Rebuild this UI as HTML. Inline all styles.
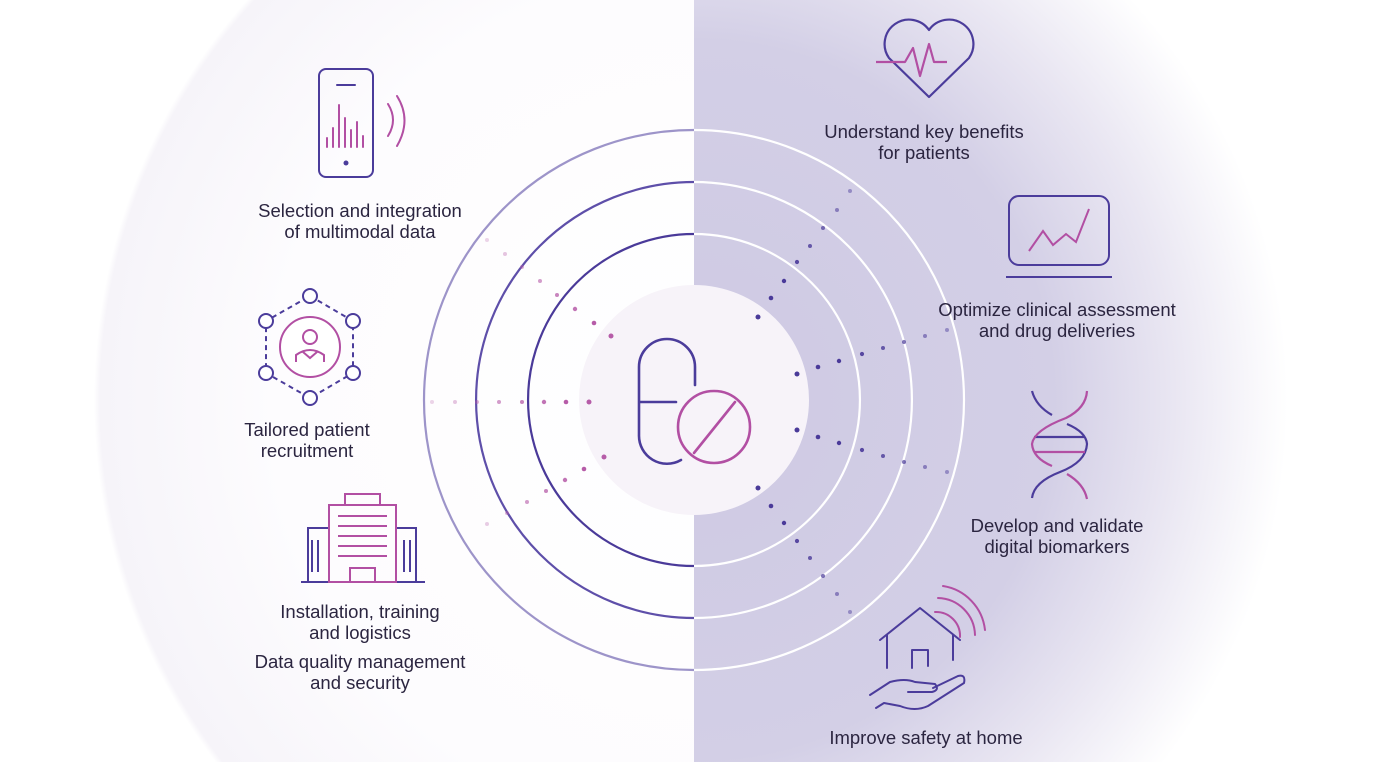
<!DOCTYPE html>
<html><head><meta charset="utf-8"><style>
body{margin:0;width:1383px;height:762px;overflow:hidden;background:#fff;font-family:"Liberation Sans",sans-serif}
.t{position:absolute;font-size:18.5px;color:#2b2540;text-align:center;line-height:21px;white-space:nowrap}
</style></head><body>
<svg width="1383" height="762" style="position:absolute;left:0;top:0">
<defs>
<radialGradient id="rg" cx="694" cy="400" r="600" gradientUnits="userSpaceOnUse">
<stop offset="0" stop-color="#cec9e3"/><stop offset="0.6" stop-color="#d3cfe6"/><stop offset="0.8" stop-color="#e9e6f2"/><stop offset="0.99" stop-color="#fff"/></radialGradient>
<radialGradient id="lg" cx="694" cy="400" r="600" gradientUnits="userSpaceOnUse">
<stop offset="0" stop-color="#fff"/><stop offset="0.7" stop-color="#fdfcfe"/><stop offset="0.99" stop-color="#f6f4f9"/><stop offset="1" stop-color="#fff"/></radialGradient>
</defs>
<rect x="0" y="0" width="694" height="762" fill="url(#lg)"/>
<rect x="694" y="0" width="689" height="762" fill="url(#rg)"/>
<circle cx="694" cy="400" r="115" fill="#f7f3f9"/>
<g fill="none" stroke-width="2.2">
<path d="M694 130 A270 270 0 0 0 694 670" stroke="#9d94c9"/>
<path d="M694 182 A218 218 0 0 0 694 618" stroke="#5e4fa9"/>
<path d="M694 234 A166 166 0 0 0 694 566" stroke="#4a3a99"/>
<path d="M694 130 A270 270 0 0 1 694 670" stroke="#fff"/>
<path d="M694 182 A218 218 0 0 1 694 618" stroke="#fff"/>
<path d="M694 234 A166 166 0 0 1 694 566" stroke="#fff"/>
</g>
<g fill="#b65ca8">
<circle cx="589" cy="402" r="2.5"/><circle cx="566" cy="402" r="2.3"/><circle cx="544" cy="402" r="2.2" opacity=".85"/><circle cx="522" cy="402" r="2" opacity=".75"/><circle cx="499" cy="402" r="2" opacity=".6"/><circle cx="477" cy="402" r="2" opacity=".45"/><circle cx="455" cy="402" r="2" opacity=".35"/><circle cx="432" cy="402" r="2" opacity=".25"/>
<circle cx="611" cy="336" r="2.5"/><circle cx="594" cy="323" r="2.3"/><circle cx="575" cy="309" r="2.2" opacity=".85"/><circle cx="557" cy="295" r="2" opacity=".75"/><circle cx="540" cy="281" r="2" opacity=".6"/><circle cx="522" cy="267" r="2" opacity=".45"/><circle cx="505" cy="254" r="2" opacity=".35"/><circle cx="487" cy="240" r="2" opacity=".25"/>
<circle cx="604" cy="457" r="2.5"/><circle cx="584" cy="469" r="2.3"/><circle cx="565" cy="480" r="2.2" opacity=".85"/><circle cx="546" cy="491" r="2" opacity=".75"/><circle cx="527" cy="502" r="2" opacity=".6"/><circle cx="507" cy="513" r="2" opacity=".45"/><circle cx="487" cy="524" r="2" opacity=".3"/>
</g>
<g fill="#4a3a99">
<circle cx="758" cy="317" r="2.5"/><circle cx="771" cy="298" r="2.3"/><circle cx="784" cy="281" r="2.2"/><circle cx="797" cy="262" r="2.1" opacity=".9"/><circle cx="810" cy="246" r="2" opacity=".8"/><circle cx="823" cy="228" r="2" opacity=".7"/><circle cx="837" cy="210" r="2" opacity=".55"/><circle cx="850" cy="191" r="2" opacity=".45"/>
<circle cx="797" cy="374" r="2.5"/><circle cx="818" cy="367" r="2.3"/><circle cx="839" cy="361" r="2.2"/><circle cx="862" cy="354" r="2.1" opacity=".9"/><circle cx="883" cy="348" r="2" opacity=".8"/><circle cx="904" cy="342" r="2" opacity=".7"/><circle cx="925" cy="336" r="2" opacity=".55"/><circle cx="947" cy="330" r="2" opacity=".45"/>
<circle cx="797" cy="430" r="2.5"/><circle cx="818" cy="437" r="2.3"/><circle cx="839" cy="443" r="2.2"/><circle cx="862" cy="450" r="2.1" opacity=".9"/><circle cx="883" cy="456" r="2" opacity=".8"/><circle cx="904" cy="462" r="2" opacity=".7"/><circle cx="925" cy="467" r="2" opacity=".55"/><circle cx="947" cy="472" r="2" opacity=".45"/>
<circle cx="758" cy="488" r="2.5"/><circle cx="771" cy="506" r="2.3"/><circle cx="784" cy="523" r="2.2"/><circle cx="797" cy="541" r="2.1" opacity=".9"/><circle cx="810" cy="558" r="2" opacity=".8"/><circle cx="823" cy="576" r="2" opacity=".7"/><circle cx="837" cy="594" r="2" opacity=".55"/><circle cx="850" cy="612" r="2" opacity=".45"/>
</g>
<g fill="none" stroke-width="2.6" stroke-linecap="round">
<path d="M695 385 V367 A28 28 0 0 0 639 367 V435 A28 28 0 0 0 681 460 M639 402 H676" stroke="#4b3c9b"/>
<circle cx="714" cy="427" r="36" stroke="#b24fa3"/>
<path d="M694 453 L735 402" stroke="#b24fa3"/>
</g>
<g fill="none" stroke-width="2" stroke-linecap="round">
<rect x="319" y="69" width="54" height="108" rx="7" stroke="#4b3c9b"/>
<path d="M337 85 H355" stroke="#4b3c9b"/>
<circle cx="346" cy="163" r="2.5" fill="#4b3c9b" stroke="none"/>
<path d="M327 147V138 M333 147V128 M339 147V105 M345 147V118 M351 147V130 M357 147V122 M363 147V136" stroke="#b24fa3"/>
<path d="M388 104 Q398 120 388 136 M397 96 Q412 120 397 146" stroke="#b24fa3"/>
</g>
<g fill="none" stroke-width="2">
<path d="M310 296 L353 321 L353 373 L310 398 L266 373 L266 321 Z" stroke="#4b3c9b" stroke-dasharray="5 4"/>
<circle cx="310" cy="296" r="7" stroke="#4b3c9b" fill="#fff"/><circle cx="353" cy="321" r="7" stroke="#4b3c9b" fill="#fff"/><circle cx="353" cy="373" r="7" stroke="#4b3c9b" fill="#fff"/><circle cx="310" cy="398" r="7" stroke="#4b3c9b" fill="#fff"/><circle cx="266" cy="373" r="7" stroke="#4b3c9b" fill="#fff"/><circle cx="266" cy="321" r="7" stroke="#4b3c9b" fill="#fff"/>
<circle cx="310" cy="347" r="30" stroke="#b24fa3" fill="#fff"/>
<circle cx="310" cy="337" r="7" stroke="#b24fa3"/>
<path d="M296 362 V355 Q310 345 324 355 V362 M303 352 L310 358 L317 352" stroke="#b24fa3"/>
</g>
<g fill="none" stroke-width="2">
<path d="M301 582 H425" stroke="#4b3c9b"/>
<path d="M308 582 V528 H329 M396 528 H416 V582 M312 540V572 M318 540V572 M404 540V572 M410 540V572" stroke="#4b3c9b"/>
<rect x="329" y="505" width="67" height="77" stroke="#b24fa3"/>
<rect x="345" y="494" width="35" height="11" stroke="#b24fa3"/>
<path d="M338 516H387 M338 526H387 M338 536H387 M338 546H387 M338 556H387 M350 582V568H375V582" stroke="#b24fa3"/>
</g>
<g fill="none" stroke-width="2.2" stroke-linejoin="round">
<path d="M929 97 L889 58 A22 22 0 0 1 929 30 A22 22 0 0 1 969 58 Z" stroke="#4b3c9b"/>
<path d="M876 62 H905 L913 48 L920 76 L929 44 L934 62 H947" stroke="#b24fa3"/>
</g>
<g fill="none" stroke-width="2">
<rect x="1009" y="196" width="100" height="69" rx="10" stroke="#4b3c9b"/>
<path d="M1006 277 H1112" stroke="#4b3c9b"/>
<path d="M1029 251 L1043 231 L1053 245 L1066 234 L1076 242 L1089 209" stroke="#b24fa3"/>
</g>
<g fill="none" stroke-width="2.2">
<path d="M1032 391 Q1036 406 1052 415 M1067 424 Q1086 432 1087 444 Q1086 462 1060 472 Q1034 482 1032 498 M1034 437 H1085" stroke="#4b3c9b"/>
<path d="M1087 391 Q1086 408 1066 418 Q1034 430 1032 444 Q1033 458 1052 466 M1067 474 Q1084 484 1087 499 M1034 452 H1085" stroke="#b24fa3"/>
</g>
<g fill="none" stroke-width="2" stroke-linecap="round" stroke-linejoin="round">
<path d="M880 640 L920 608 L960 640 M887 635 V668 M953 635 V660 M912 668 V650 H928 V666" stroke="#4b3c9b"/>
<path d="M935 612 A24 24 0 0 1 960 637 M938 598 A38 38 0 0 1 975 635 M943 586 A50 50 0 0 1 985 630" stroke="#b24fa3"/>
<path d="M870 695 L890 682 Q905 678 915 682 L935 684 Q940 690 932 692 L908 692 M933 688 L958 676 Q966 674 964 683 L928 706 Q915 712 900 706 L884 703 L876 708" stroke="#4b3c9b"/>
</g>
</svg>
<div class="t" style="left:210px;top:200px;width:300px">Selection and integration<br>of multimodal data</div>
<div class="t" style="left:157px;top:419px;width:300px">Tailored patient<br>recruitment</div>
<div class="t" style="left:210px;top:601px;width:300px">Installation, training<br>and logistics</div>
<div class="t" style="left:210px;top:651px;width:300px">Data quality management<br>and security</div>
<div class="t" style="left:774px;top:121px;width:300px">Understand key benefits<br>for patients</div>
<div class="t" style="left:907px;top:299px;width:300px">Optimize clinical assessment<br>and drug deliveries</div>
<div class="t" style="left:907px;top:515px;width:300px">Develop and validate<br>digital biomarkers</div>
<div class="t" style="left:776px;top:727px;width:300px">Improve safety at home</div>
</body></html>
